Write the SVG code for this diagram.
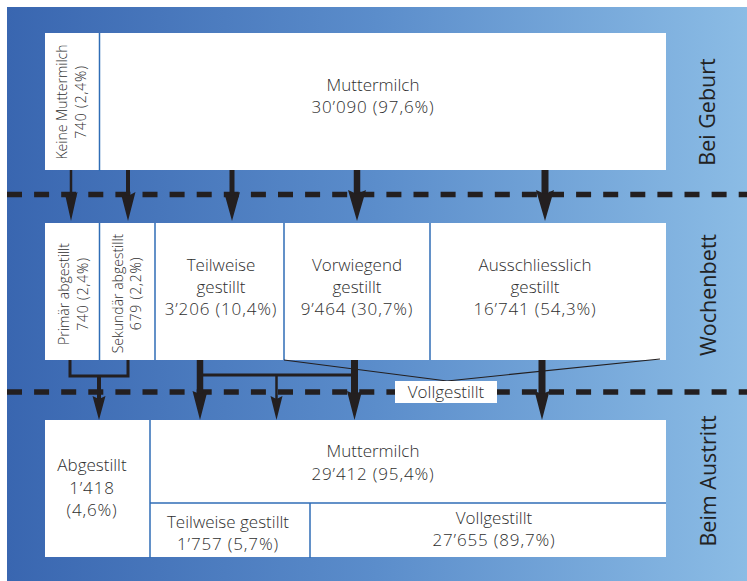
<svg xmlns="http://www.w3.org/2000/svg" width="747" height="581" viewBox="0 0 747 581">
<defs>
<linearGradient id="bg" x1="0" y1="0" x2="1" y2="0">
<stop offset="0" stop-color="#3966b0"/>
<stop offset="0.5" stop-color="#5b8dcb"/>
<stop offset="1" stop-color="#8bbce5"/>
</linearGradient>
<style>
.box{fill:#fff}
.div{stroke:#2f6db6;stroke-width:1.5;fill:none}
.t{font-family:"Open Sans","Liberation Sans",sans-serif;font-size:17px;font-weight:350;fill:#2e2e2e;text-anchor:middle}
.n{letter-spacing:0.85px}
.r{font-family:"Open Sans","Liberation Sans",sans-serif;font-size:14px;font-weight:350;fill:#2e2e2e;text-anchor:middle}
.rn{letter-spacing:0.8px}
.side{font-family:"Open Sans","Liberation Sans",sans-serif;font-size:21.5px;fill:#222;text-anchor:middle}
.dash{stroke:#231f20;stroke-width:5.5;stroke-dasharray:15 12.1;fill:none}
.ln{stroke:#231f20;fill:none}
.hd{fill:#231f20}
.thin{stroke:#231f20;stroke-width:1.2;fill:none}
</style>
</defs>
<rect x="0" y="0" width="747" height="581" fill="#fff"/>
<rect x="7" y="7" width="740" height="574" fill="url(#bg)"/>

<g id="side-labels">
<text class="side" transform="translate(715,112) rotate(-90)">Bei Geburt</text>
<text class="side" transform="translate(716,295) rotate(-90)">Wochenbett</text>
<text class="side" transform="translate(716,481) rotate(-90)">Beim Austritt</text>
</g>

<g id="dashed-lines">
<line class="dash" x1="7" y1="194.5" x2="747" y2="194.5"/>
<line class="dash" x1="7" y1="392" x2="747" y2="392"/>
</g>

<g id="geburt">
<rect class="box" x="45" y="33" width="621" height="137"/>
<line class="div" x1="99.5" y1="33" x2="99.5" y2="171"/>
<g id="keine-muttermilch">
<text class="r" transform="translate(67,102) rotate(-90)">Keine Muttermilch</text>
<text class="r rn" transform="translate(85.5,102) rotate(-90)">740 (2,4%)</text>
</g>
<g id="muttermilch-geburt">
<text class="t" x="373" y="91">Muttermilch</text>
<text class="t n" x="373" y="113">30’090 (97,6%)</text>
</g>
</g>

<g id="wochenbett">
<rect class="box" x="45" y="223" width="621" height="137"/>
<line class="div" x1="99.5" y1="223" x2="99.5" y2="360"/>
<line class="div" x1="155" y1="223" x2="155" y2="360"/>
<line class="div" x1="284" y1="223" x2="284" y2="360"/>
<line class="div" x1="430" y1="223" x2="430" y2="360"/>
<g id="primaer">
<text class="r" transform="translate(69,294) rotate(-90)">Primär abgestillt</text>
<text class="r rn" transform="translate(87.5,294) rotate(-90)">740 (2,4%)</text>
</g>
<g id="sekundaer">
<text class="r" transform="translate(122.5,293.5) rotate(-90)">Sekundär abgestillt</text>
<text class="r rn" transform="translate(141,293.5) rotate(-90)">679 (2,2%)</text>
</g>
<g id="teilweise">
<text class="t" x="221" y="271">Teilweise</text>
<text class="t" x="221" y="293">gestillt</text>
<text class="t n" x="221" y="315">3’206 (10,4%)</text>
</g>
<g id="vorwiegend">
<text class="t" x="357" y="271">Vorwiegend</text>
<text class="t" x="357" y="293">gestillt</text>
<text class="t n" x="357" y="315">9’464 (30,7%)</text>
</g>
<g id="ausschliesslich">
<text class="t" x="535" y="271">Ausschliesslich</text>
<text class="t" x="535" y="293">gestillt</text>
<text class="t n" x="535" y="315">16’741 (54,3%)</text>
</g>
</g>

<g id="austritt">
<rect class="box" x="45" y="420" width="621" height="137"/>
<line class="div" x1="150" y1="420" x2="150" y2="558"/>
<line class="div" x1="150" y1="503" x2="666" y2="503"/>
<line class="div" x1="310" y1="503" x2="310" y2="558"/>
<g id="abgestillt">
<text class="t" x="92" y="471">Abgestillt</text>
<text class="t n" x="92" y="494">1’418</text>
<text class="t n" x="92" y="516">(4,6%)</text>
</g>
<g id="muttermilch-austritt">
<text class="t" x="373" y="457">Muttermilch</text>
<text class="t n" x="373" y="480">29’412 (95,4%)</text>
</g>
<g id="teilweise-austritt">
<text class="t" x="228" y="528">Teilweise gestillt</text>
<text class="t n" x="228" y="550">1’757 (5,7%)</text>
</g>
<g id="vollgestillt-austritt">
<text class="t" x="494" y="524">Vollgestillt</text>
<text class="t n" x="494" y="546">27’655 (89,7%)</text>
</g>
</g>

<g id="connectors">
<line class="thin" x1="284" y1="360" x2="447" y2="381"/>
<line class="thin" x1="660" y1="359" x2="447" y2="381"/>
<line class="ln" x1="71" y1="170" x2="71" y2="200" stroke-width="2.5"/>
<polygon class="hd" points="64.5,192 71,196 77.5,192 71,221"/>
<line class="ln" x1="128" y1="170" x2="128" y2="200" stroke-width="4"/>
<polygon class="hd" points="120.5,192 128,196 135.5,192 128,221"/>
<line class="ln" x1="232" y1="170" x2="232" y2="200" stroke-width="5"/>
<polygon class="hd" points="224,192 232,196 240,192 232,221"/>
<line class="ln" x1="357" y1="170" x2="357" y2="200" stroke-width="6.5"/>
<polygon class="hd" points="348,190 357,194 366,190 357,221"/>
<line class="ln" x1="545" y1="170" x2="545" y2="200" stroke-width="7"/>
<polygon class="hd" points="536,190 545,194 554,190 545,221"/>
<polyline class="ln" points="70,360 70,376 128,376 128,360" stroke-width="3"/>
<line class="ln" x1="99" y1="376" x2="99" y2="400" stroke-width="4"/>
<polygon class="hd" points="92.5,396 99,399 105.5,396 99,420"/>
<line class="ln" x1="200" y1="375" x2="354" y2="375" stroke-width="3"/>
<line class="ln" x1="276.5" y1="375" x2="276.5" y2="400" stroke-width="2.5"/>
<polygon class="hd" points="270.5,396 276.5,399 282.5,396 276.5,420"/>
<line class="ln" x1="200" y1="360" x2="200" y2="398" stroke-width="6.5"/>
<polygon class="hd" points="192.5,391 200,394 207.5,391 200,420"/>
<line class="ln" x1="354.5" y1="360" x2="354.5" y2="398" stroke-width="7"/>
<polygon class="hd" points="347,391 354.5,394 362,391 354.5,420"/>
<line class="ln" x1="542" y1="360" x2="542" y2="398" stroke-width="7"/>
<polygon class="hd" points="534.5,391 542,394 549.5,391 542,420"/>
</g>

<g id="vollgestillt-label">
<rect class="box" x="395" y="381" width="102" height="22"/>
<text class="t" x="446" y="397.5">Vollgestillt</text>
</g>
</svg>
